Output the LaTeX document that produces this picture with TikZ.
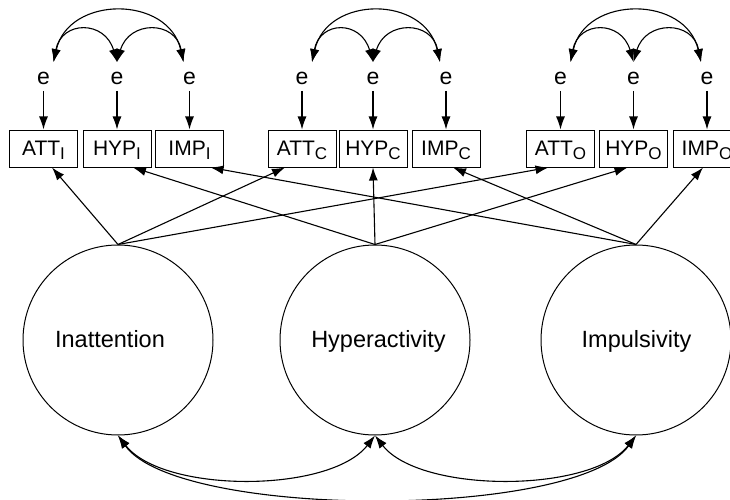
\documentclass[tikz,border=0pt]{standalone}
\usepackage{fontspec}
\setmainfont{Liberation Sans}
\usetikzlibrary{arrows.meta,calc}
\newcommand\lsub[1]{\raisebox{-3.5pt}{\fontsize{17}{17}\selectfont #1}}
\begin{document}
\begin{tikzpicture}[x=1pt,y=-1pt,
  line width=1.1pt,
  tip/.style={-{Latex[length=13pt,width=9pt]}},
  both/.style={{Latex[length=13pt,width=9pt]}-{Latex[length=13pt,width=9pt]}},
  indicator/.style={draw, line width=1pt, minimum width=68pt, inner xsep=0pt,
    inner ysep=9.5pt, text height=16pt, text depth=2pt,
    font=\fontsize{21}{21}\selectfont},
  errterm/.style={inner sep=6pt, font=\fontsize{23}{23}\selectfont},
  latent/.style={draw, circle, line width=1pt, minimum size=190pt, inner sep=0pt},
  latlabel/.style={anchor=base, font=\fontsize{23.5}{24}\selectfont},
]
\clip (0,0) rectangle (730,500);

% observed indicators
\node[indicator] (attI) at (43.5,148.5) {ATT\lsub{I}};
\node[indicator] (hypI) at (117,148.5)  {HYP\lsub{I}};
\node[indicator] (impI) at (189.5,148.5){IMP\lsub{I}};
\node[indicator] (attC) at (302,148.5)  {ATT\lsub{C}};
\node[indicator] (hypC) at (373,148.5)  {HYP\lsub{C}};
\node[indicator] (impC) at (446,148.5)  {IMP\lsub{C}};
\node[indicator] (attO) at (560.5,148.5){ATT\lsub{O}};
\node[indicator] (hypO) at (633.5,148.5){HYP\lsub{O}};
\node[indicator] (impO) at (707,148.5)  {IMP\lsub{O}};

% error terms
\foreach \b in {attI,hypI,impI,attC,hypC,impC,attO,hypO,impO}{
  \node[errterm] (e\b) at ($(\b.center)+(0,-70.5)$) {e};
  \draw[tip] (e\b.south) -- (\b.north);
}

% correlated errors within each informant
\foreach \a/\h/\i in {attI/hypI/impI, attC/hypC/impC, attO/hypO/impO}{
  \coordinate (ta) at ($(e\a.north)+(10,-3)$);
  \coordinate (th) at ($(e\h.north)+(0,-3)$);
  \coordinate (ti) at ($(e\i.north)+(-6,-3)$);
  \draw[both] (ta) .. controls +(8,-42) and +(-12,-42) .. (th);
  \draw[both] (th) .. controls +(12,-42) and +(-8,-42) .. (ti);
  \draw[both] (ta) .. controls +(15,-67) and +(-15,-67) .. (ti);
}

% latent factors
\node[latent] (inat) at (118,340) {};
\node[latent] (hyper) at (375,340) {};
\node[latent] (impul) at (636,340) {};
\node[latlabel] (inatL)  at (110,347)   {Inattention};
\node[latlabel] (hyperL) at (378.5,347) {Hyperactivity};
\node[latlabel] (impulL) at (636.5,347) {Impulsivity};

% factor loadings
\draw[tip] (inat.north) -- ($(attI.south)+(8.5,0)$);
\draw[tip] (inat.north) -- ($(attC.south)+(-17,0)$);
\draw[tip] (inat.north) -- ($(attO.south)+(-12,0)$);
\draw[tip] (hyper.north) -- ($(hypI.south)+(16,0)$);
\draw[tip] (hyper.north) -- (hypC.south);
\draw[tip] (hyper.north) -- ($(hypO.south)+(-6,0)$);
\draw[tip] (impul.north) -- ($(impI.south)+(21,0)$);
\draw[tip] (impul.north) -- ($(impC.south)+(7,0)$);
\draw[tip] (impul.north) -- ($(impO.south)+(-4,0)$);

% factor correlations
\draw[both] (inat.south) .. controls +(45,58) and +(-45,58) .. (hyper.south);
\draw[both] (hyper.south) .. controls +(45,58) and +(-45,58) .. (impul.south);
\draw[both] (inat.south) .. controls +(60,84) and +(-60,84) .. (impul.south);
\end{tikzpicture}
\end{document}
